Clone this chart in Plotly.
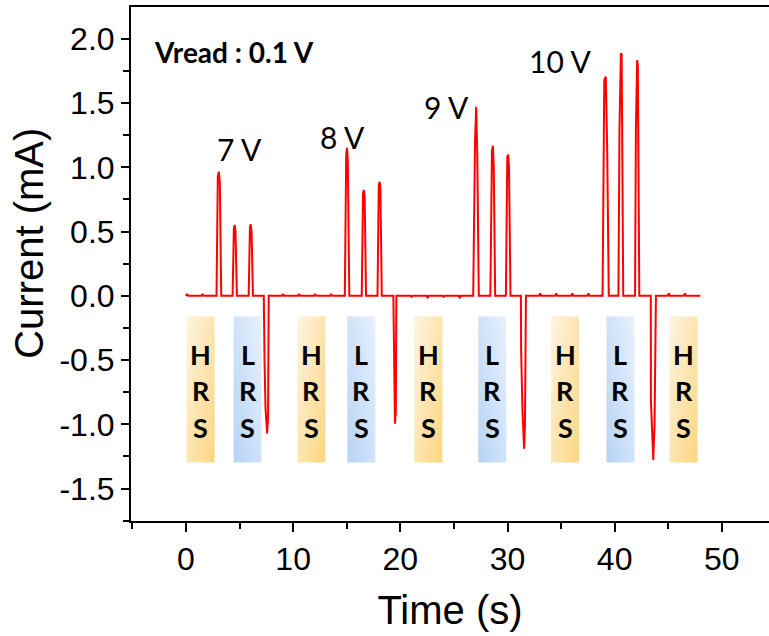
import plotly.graph_objects as go

# ---- measured current trace (time in s, current in mA) ----
time_s = [
    0.00, 0.10, 0.20,
    1.45, 1.55, 1.65,
    # 7 V set pulse and LRS reads
    2.85, 2.97, 3.07, 3.16, 3.29,
    4.35, 4.47, 4.55, 4.62, 4.75,
    5.85, 5.97, 6.05, 6.12, 6.25,
    # reset
    7.26, 7.33, 7.42, 7.57, 7.66, 7.72,
    8.95, 9.05, 9.15,
    10.45, 10.55, 10.65,
    11.95, 12.05, 12.15,
    13.45, 13.55, 13.65,
    # 8 V
    14.82, 14.95, 15.03, 15.10, 15.24,
    16.40, 16.52, 16.60, 16.67, 16.80,
    17.87, 17.99, 18.07, 18.14, 18.27,
    19.35, 19.42, 19.47, 19.50, 19.58, 19.63,
    20.95, 21.05, 21.15,
    22.45, 22.55, 22.65,
    23.95, 24.05, 24.15,
    25.45, 25.55, 25.65,
    # 9 V
    26.80, 26.97, 27.08, 27.18, 27.32,
    28.40, 28.55, 28.64, 28.72, 28.85,
    29.85, 29.98, 30.07, 30.14, 30.28,
    31.25, 31.27, 31.40, 31.55, 31.63, 31.72,
    32.95, 33.05, 33.15,
    34.45, 34.55, 34.65,
    35.95, 36.05, 36.15,
    37.45, 37.55, 37.65,
    # 10 V
    38.87, 39.03, 39.17, 39.30, 39.45,
    40.35, 40.45, 40.58, 40.65, 40.80,
    41.90, 41.98, 42.10, 42.16, 42.22, 42.30,
    43.37, 43.38, 43.60, 43.72, 43.85,
    44.95, 45.05, 45.15,
    46.45, 46.55, 46.65,
    48.00,
]
current_mA = [
    0.000, 0.015, 0.000,
    0.000, 0.015, 0.000,
    0.000, 0.930, 0.966, 0.880, 0.000,
    0.000, 0.530, 0.552, 0.500, 0.000,
    0.000, 0.540, 0.556, 0.500, 0.000,
    0.000, -0.510, -0.870, -1.070, -0.950, 0.000,
    0.000, 0.015, 0.000,
    0.000, 0.015, 0.000,
    0.000, 0.015, 0.000,
    0.000, 0.015, 0.000,
    0.000, 1.100, 1.153, 1.050, 0.000,
    0.000, 0.800, 0.823, 0.780, 0.000,
    0.000, 0.860, 0.888, 0.840, 0.000,
    0.000, -0.500, -0.800, -0.995, -0.900, 0.000,
    0.000, -0.008, 0.000,
    0.000, -0.012, 0.000,
    0.000, -0.008, 0.000,
    0.000, -0.012, 0.000,
    0.000, 1.200, 1.472, 1.100, 0.000,
    0.000, 1.130, 1.168, 1.000, 0.000,
    0.000, 1.080, 1.100, 1.000, 0.000,
    0.000, -0.420, -0.900, -1.190, -1.000, 0.000,
    0.000, 0.020, 0.000,
    0.000, 0.020, 0.000,
    0.000, 0.020, 0.000,
    0.000, 0.020, 0.000,
    0.000, 1.680, 1.706, 1.150, 0.000,
    0.000, 1.300, 1.888, 1.880, 0.000,
    0.000, 1.300, 1.835, 1.800, 1.000, 0.000,
    0.000, -0.810, -1.277, -1.000, 0.000,
    0.000, 0.020, 0.000,
    0.000, 0.020, 0.000,
    0.000,
]

# ---- resistance-state windows ----
state_labels = ["HRS", "LRS", "HRS", "LRS", "HRS", "LRS", "HRS", "LRS", "HRS"]
state_start_s = [0.06, 4.44, 10.40, 15.06, 21.31, 27.27, 34.07, 39.23, 45.12]
state_width_s = 2.62
state_top_mA = -0.16
state_bottom_mA = -1.30

# ---- pulse amplitude labels ----
pulse_labels = ["7 V", "8 V", "9 V", "10 V"]
pulse_label_t = [5.0, 14.64, 24.29, 34.91]
pulse_label_i = [1.143, 1.233, 1.471, 1.826]

HRS_SCALE = [[0.0, "rgb(254,244,226)"], [1.0, "rgb(252,214,126)"]]
LRS_SCALE = [[0.0, "rgb(233,242,252)"], [1.0, "rgb(183,212,245)"]]

fig = go.Figure()

# gradient-filled state boxes
NX, NY = 8, 30
for label, t0 in zip(state_labels, state_start_s):
    xs = [t0 + (i + 0.5) * state_width_s / NX for i in range(NX)]
    h = state_top_mA - state_bottom_mA
    ys = [state_bottom_mA + (j + 0.5) * h / NY for j in range(NY)]
    z = []
    for j in range(NY):
        v = (j + 0.5) / NY          # 0 at bottom, 1 at top
        row = []
        for i in range(NX):
            u = (i + 0.5) / NX      # 0 at left, 1 at right
            if label == "HRS":
                row.append((u + (1 - v)) / 2)       # darkest bottom-right
            else:
                row.append(((1 - u) + (1 - v)) / 2)  # darkest bottom-left
        z.append(row)
    fig.add_trace(go.Heatmap(
        x=xs, y=ys, z=z, zmin=0, zmax=1, zsmooth="best",
        colorscale=HRS_SCALE if label == "HRS" else LRS_SCALE,
        showscale=False, hoverinfo="skip",
    ))

fig.add_trace(go.Scatter(
    x=time_s, y=current_mA, mode="lines",
    line=dict(color="#ff0000", width=2),
    showlegend=False,
))

annotations = []
letter_y = [-0.454, -0.735, -1.021]
for label, t0 in zip(state_labels, state_start_s):
    xc = t0 + state_width_s / 2
    for ch, yy in zip(label, letter_y):
        annotations.append(dict(
            x=xc, y=yy, xref="x", yref="y", text=ch, showarrow=False,
            font=dict(family="Lato", size=27, color="black", weight="bold"),
        ))
for txt, tx, ty in zip(pulse_labels, pulse_label_t, pulse_label_i):
    annotations.append(dict(
        x=tx, y=ty, xref="x", yref="y", text=txt, showarrow=False,
        font=dict(family="Lato", size=30, color="black"),
    ))
annotations.append(dict(
    x=4.44, y=1.90, xref="x", yref="y", text="Vread : 0.1 V", showarrow=False,
    font=dict(family="Lato", size=28, color="black", weight="bold"),
))
# y-axis title
annotations.append(dict(
    x=-0.16, y=0.541, xref="paper", yref="paper", text="Current (mA)",
    textangle=-90, showarrow=False, xanchor="center", yanchor="middle",
    font=dict(family="Liberation Sans", size=40, color="black"),
))

ytick_vals = [-1.5, -1.0, -0.5, 0.0, 0.5, 1.0, 1.5, 2.0]
ytick_text = ["-1.5", "-1.0", "-0.5", "0.0", "0.5", "1.0", "1.5", "2.0"]

fig.update_layout(
    width=769, height=636,
    margin=dict(l=131, r=0, t=7, b=115),
    paper_bgcolor="white", plot_bgcolor="white",
    showlegend=False,
    annotations=annotations,
    font=dict(family="Liberation Sans", color="black"),
    xaxis=dict(
        range=[-5.13, 54.4],
        tickvals=[0, 10, 20, 30, 40, 50],
        ticks="outside", ticklen=9, tickwidth=2, tickcolor="black",
        minor=dict(dtick=5, tick0=0, ticks="outside", ticklen=6,
                   tickwidth=2, tickcolor="black"),
        showline=True, linewidth=2, linecolor="black", mirror=True,
        showgrid=False, zeroline=False,
        tickfont=dict(family="Liberation Sans", size=32),
        title=dict(text="Time (s)", font=dict(family="Liberation Sans", size=40),
                   standoff=20),
    ),
    yaxis=dict(
        range=[-1.752, 2.248],
        tickvals=ytick_vals, ticktext=ytick_text,
        ticks="outside", ticklen=8, tickwidth=2, tickcolor="black",
        minor=dict(dtick=0.25, tick0=0, ticks="outside", ticklen=6,
                   tickwidth=2, tickcolor="black"),
        showline=True, linewidth=2, linecolor="black", mirror=False,
        showgrid=False, zeroline=False,
        tickfont=dict(family="Liberation Sans", size=32),
    ),
)

fig.write_html("out.html")
